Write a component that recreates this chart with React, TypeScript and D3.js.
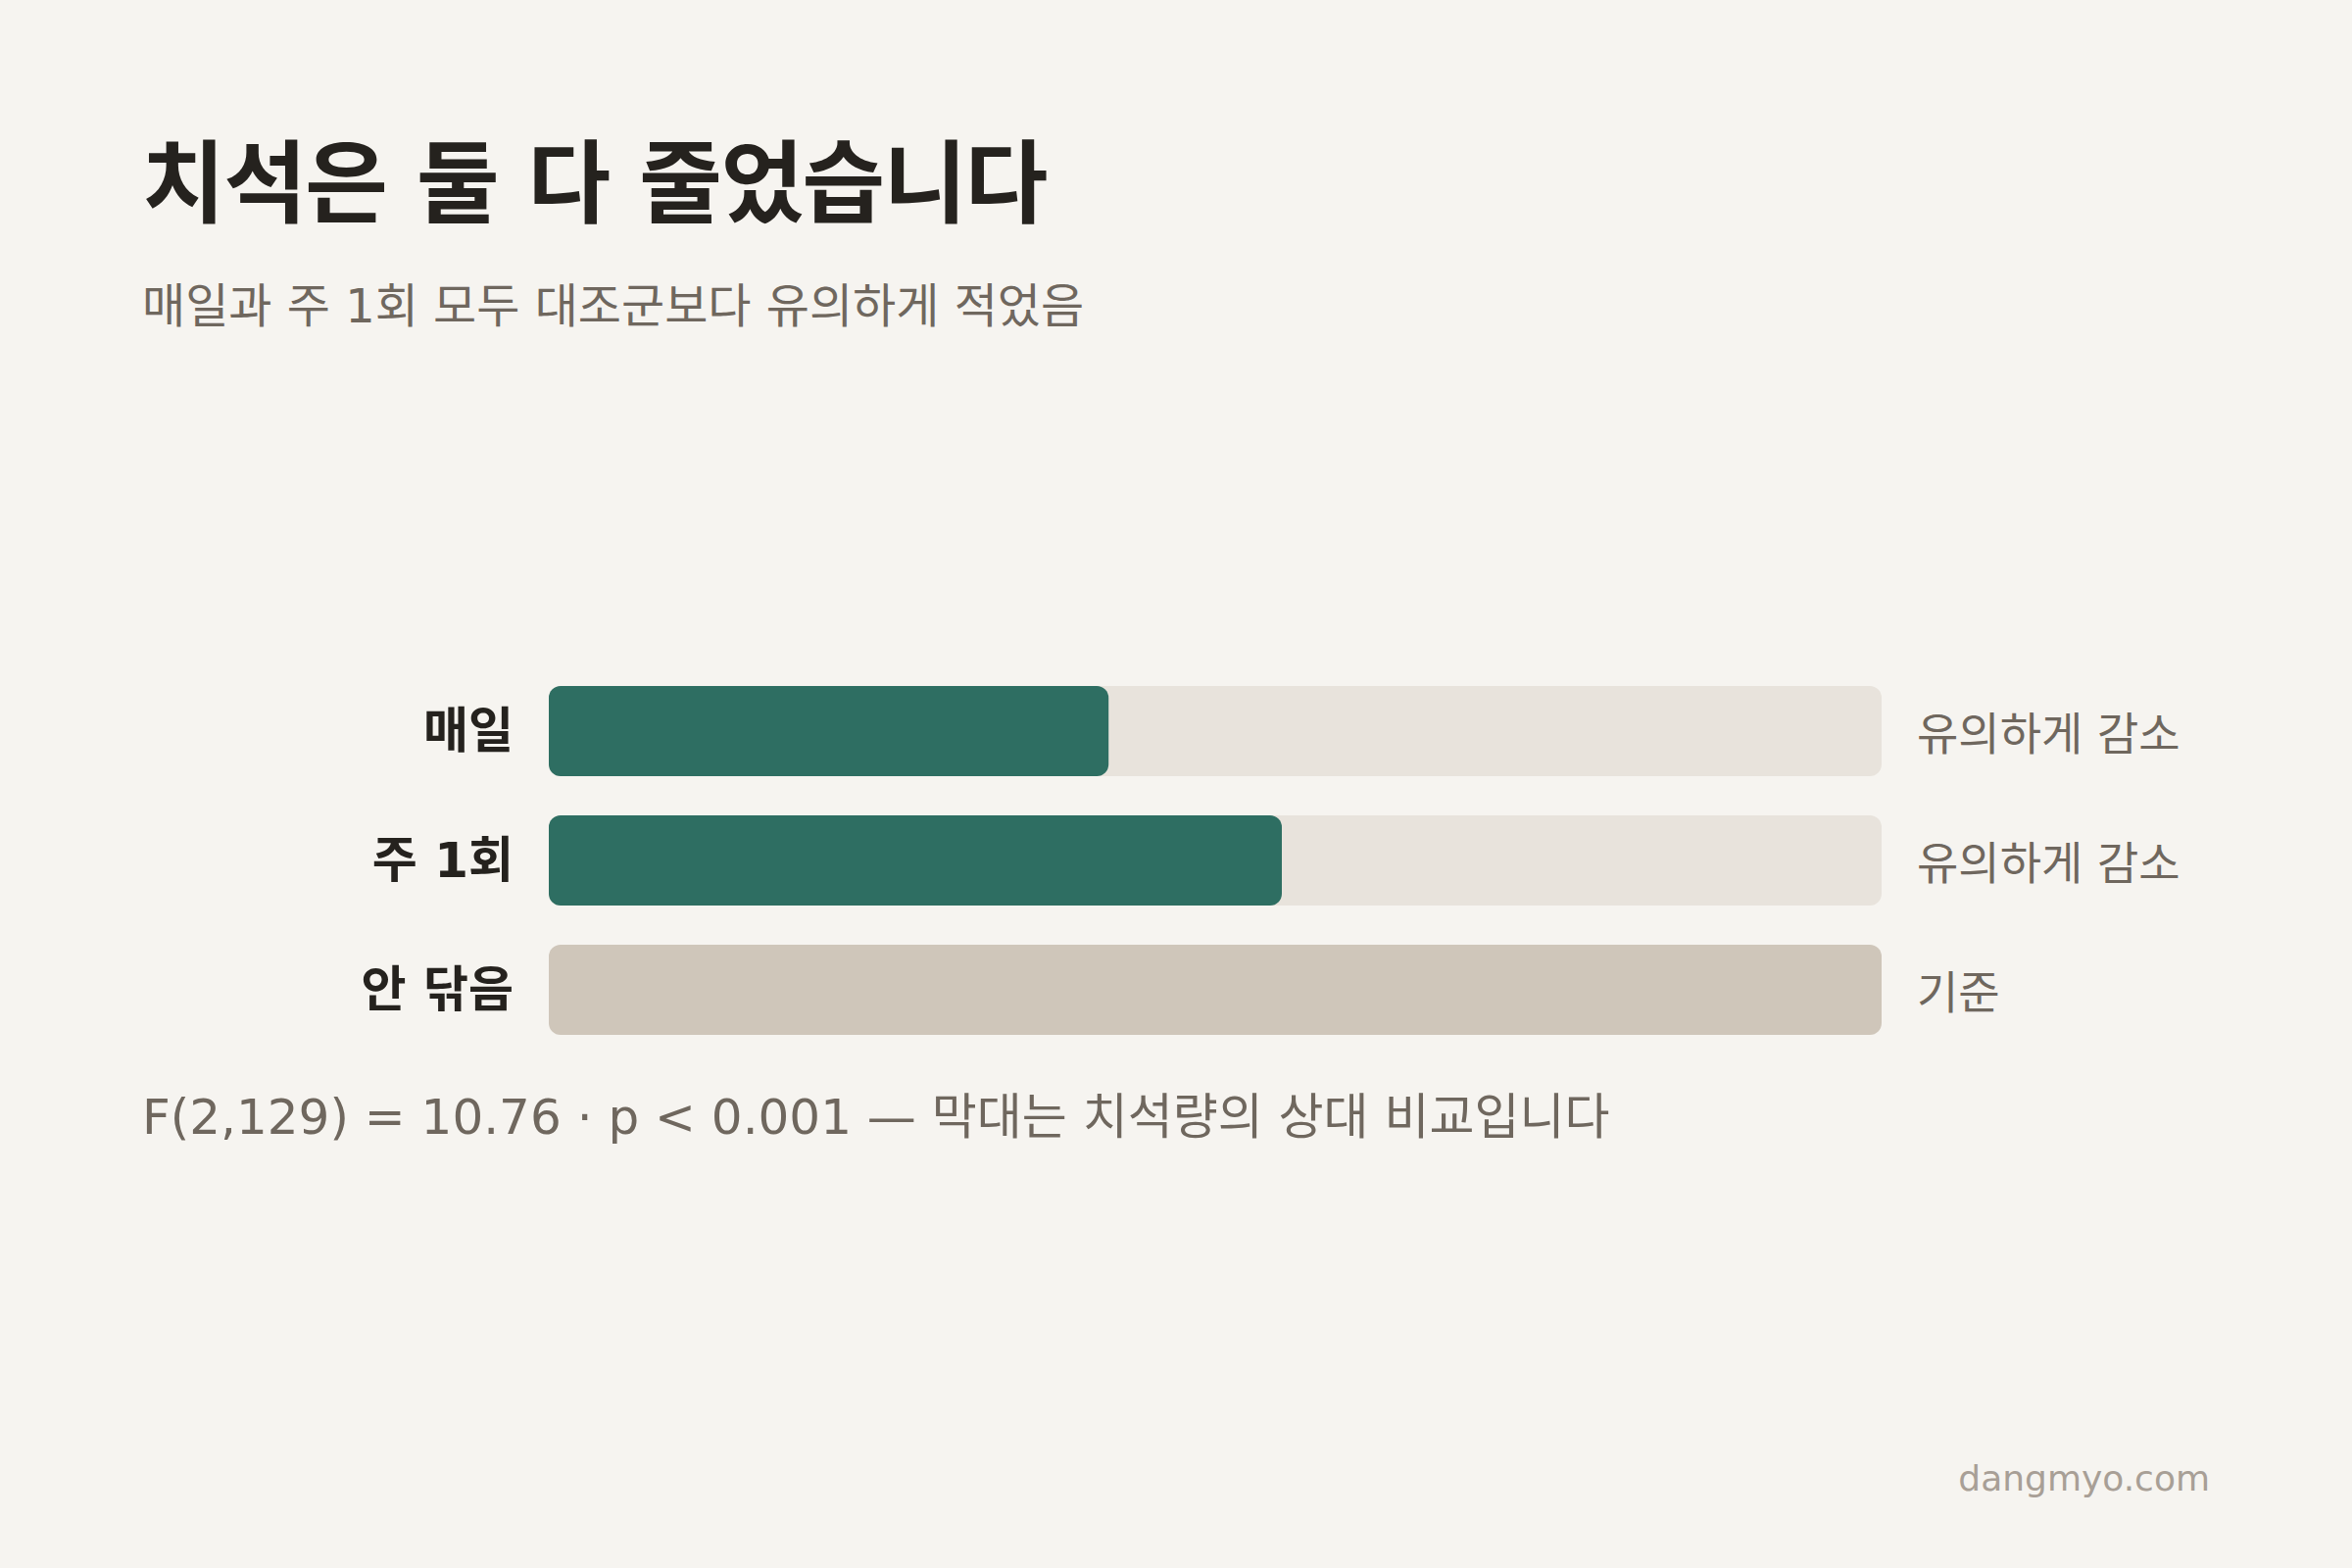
import React from 'react';
import * as d3 from 'd3';

const groups = ['매일', '주 1회', '안 닦음'];
const values = [42, 55, 100];
const notes = ['유의하게 감소', '유의하게 감소', '기준'];
const isControl = [false, false, true];

const title = '치석은 둘 다 줄었습니다';
const subtitle = '매일과 주 1회 모두 대조군보다 유의하게 적었음';
const footnote = 'F(2,129) = 10.76 · p < 0.001 — 막대는 치석량의 상대 비교입니다';
const source = 'dangmyo.com';

const W = 2400;
const H = 1600;
const FONT = "'DejaVu Sans', 'Noto Sans CJK KR', sans-serif";

export default function App() {
  const x = d3.scaleLinear().domain([0, 100]).range([560, 1920]);
  const y = d3.scaleBand<string>().domain(groups).range([700, 1056]).paddingInner(40 / 132);
  const bh = y.bandwidth();

  return (
    <svg
      width={W}
      height={H}
      viewBox={`0 0 ${W} ${H}`}
      style={{ position: 'fixed', left: 0, top: 0, fontFamily: FONT }}
    >
      <rect width={W} height={H} fill="#f6f4f0" />
      <text x={145} y={220} fontSize={92} fontWeight={700} fill="#25221e" letterSpacing={-1.5}>
        {title}
      </text>
      <text x={145} y={329} fontSize={48} fill="#6f675e">
        {subtitle}
      </text>

      {groups.map((g, i) => {
        const cy = y(g)! + bh / 2;
        return (
          <g key={g}>
            <rect
              x={x(0)}
              y={y(g)}
              width={x(100) - x(0)}
              height={bh}
              rx={12}
              fill={isControl[i] ? '#cfc6ba' : '#e8e3dc'}
            />
            {!isControl[i] && (
              <rect x={x(0)} y={y(g)} width={x(values[i]) - x(0)} height={bh} rx={12} fill="#2e6e62" />
            )}
            <text
              x={x(0) - 36}
              y={cy}
              textAnchor="end"
              dominantBaseline="central"
              fontSize={50}
              fontWeight={700}
              fill="#25221e"
            >
              {g}
            </text>
            <text x={x(100) + 36} y={cy + 3} dominantBaseline="central" fontSize={46} fill="#6f675e">
              {notes[i]}
            </text>
          </g>
        );
      })}

      <text x={145} y={1157} fontSize={50} fill="#6f675e">
        {footnote}
      </text>
      <text x={2255} y={1521} textAnchor="end" fontSize={36} fill="#a89f96">
        {source}
      </text>
    </svg>
  );
}
